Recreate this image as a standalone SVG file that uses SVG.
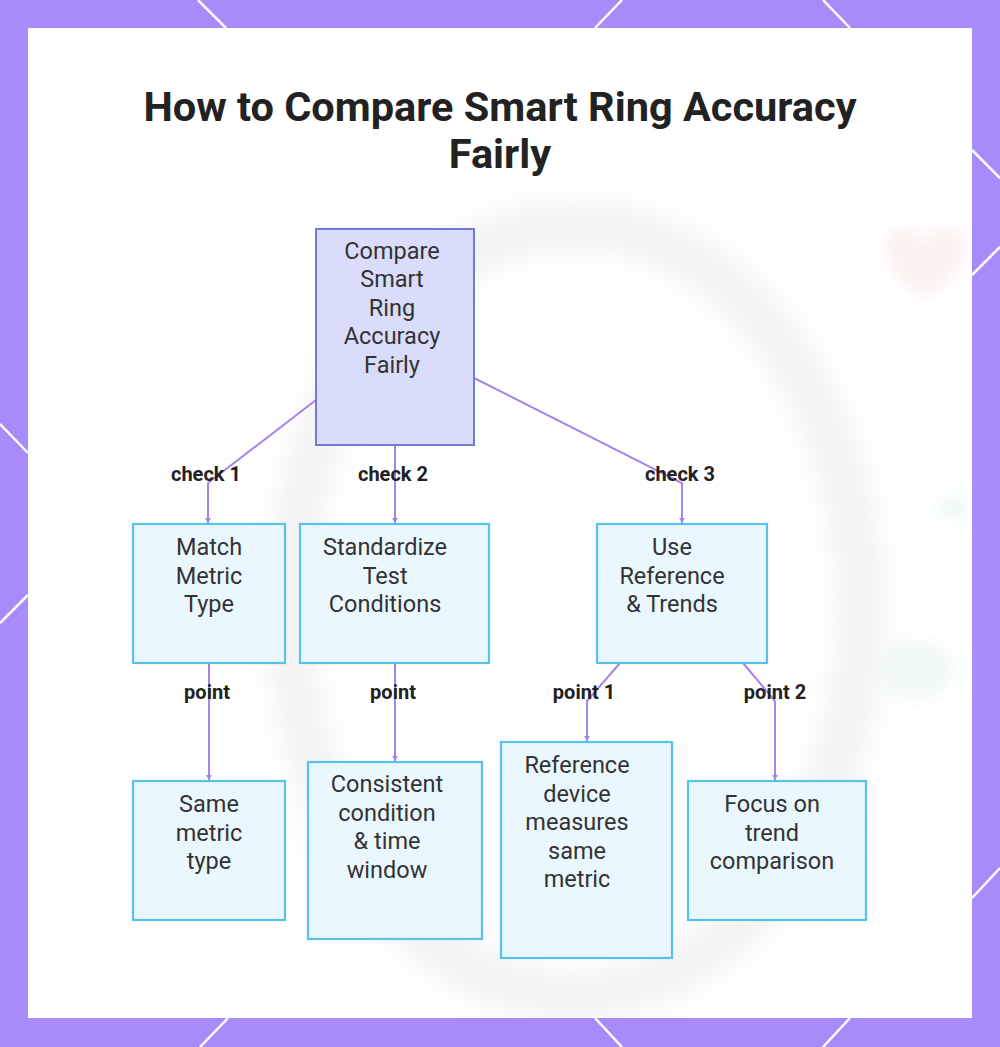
<svg xmlns="http://www.w3.org/2000/svg" width="1000" height="1047" viewBox="0 0 1000 1047">
  <style>
    .title { font-family: Roboto, "Liberation Sans", sans-serif; font-weight: 700; font-size: 41.5px; fill: #222222; text-anchor: middle; }
    .nt { font-family: Roboto, "Liberation Sans", sans-serif; font-size: 23.5px; fill: #333333; text-anchor: middle; }
    .lbl { font-family: Roboto, "Liberation Sans", sans-serif; font-weight: 700; font-size: 20px; fill: #222222; text-anchor: middle; }
    .root { fill: #d9dcfa; stroke: #6f7bd6; stroke-width: 2; }
    .box { fill: #ebf7fe; stroke: #58c3ea; stroke-width: 2.2; }
    .edge { fill: none; stroke: #a683ea; stroke-width: 2; }
    .deco { stroke: #ffffff; stroke-width: 2.5; }
  </style>
  <defs>
    <marker id="arr" viewBox="0 0 10 10" refX="9" refY="5" markerWidth="6" markerHeight="6" markerUnits="userSpaceOnUse" orient="auto">
      <path d="M0,0 L10,5 L0,10 z" fill="#a683ea"/>
    </marker>
    <filter id="blur" x="-30%" y="-30%" width="160%" height="160%">
      <feGaussianBlur stdDeviation="16"/>
    </filter>
    <filter id="blur2" x="-50%" y="-50%" width="200%" height="200%">
      <feGaussianBlur stdDeviation="8"/>
    </filter>
    <clipPath id="panel">
      <rect x="28" y="28" width="944" height="990"/>
    </clipPath>
  </defs>

  <!-- frame -->
  <rect x="0" y="0" width="1000" height="1047" fill="#a78bfa"/>
  <g class="deco">
    <line x1="198" y1="0" x2="226" y2="28"/>
    <line x1="622" y1="0" x2="595" y2="28"/>
    <line x1="823" y1="0" x2="850" y2="28"/>
    <line x1="228" y1="1018" x2="200" y2="1047"/>
    <line x1="595" y1="1018" x2="622" y2="1047"/>
    <line x1="850" y1="1018" x2="823" y2="1047"/>
    <line x1="0" y1="424" x2="28" y2="453"/>
    <line x1="28" y1="595" x2="0" y2="623"/>
    <line x1="972" y1="150" x2="1000" y2="178"/>
    <line x1="972" y1="275" x2="1000" y2="247"/>
    <line x1="972" y1="898" x2="1000" y2="868"/>
  </g>
  <rect x="28" y="28" width="944" height="990" fill="#ffffff"/>

  <!-- faint blurred background -->
  <g clip-path="url(#panel)">
    <ellipse cx="575" cy="610" rx="285" ry="385" fill="none" stroke="#f2f2f2" stroke-width="45" filter="url(#blur)"/>
    <path d="M925,300 C900,280 885,265 885,248 C885,232 900,225 912,230 C918,233 922,238 925,243 C928,238 932,233 938,230 C950,225 965,232 965,248 C965,265 950,280 925,300 z" fill="#fdf1f1" filter="url(#blur2)"/>
    <ellipse cx="915" cy="670" rx="40" ry="30" fill="#f0f9f5" filter="url(#blur2)"/>
    <ellipse cx="953" cy="508" rx="14" ry="12" fill="#ecf8f7" filter="url(#blur2)"/>
  </g>

  <!-- title -->
  <text class="title" x="500" y="121">How to Compare Smart Ring Accuracy</text>
  <text class="title" x="500" y="168">Fairly</text>

  <!-- connectors -->
  <g id="connectors">
    <path class="edge" d="M316,400 L208,483 L208,523" marker-end="url(#arr)"/>
    <path class="edge" d="M395,445 L395,523" marker-end="url(#arr)"/>
    <path class="edge" d="M474,378 L682,483 L682,523" marker-end="url(#arr)"/>
    <path class="edge" d="M209,663 L209,780" marker-end="url(#arr)"/>
    <path class="edge" d="M395,663 L395,761" marker-end="url(#arr)"/>
    <path class="edge" d="M620,663 L587,701 L587,741" marker-end="url(#arr)"/>
    <path class="edge" d="M743,663 L775,701 L775,780" marker-end="url(#arr)"/>
    <text class="lbl" x="206" y="481">check 1</text>
    <text class="lbl" x="393" y="481">check 2</text>
    <text class="lbl" x="680" y="481">check 3</text>
    <text class="lbl" x="207" y="699">point</text>
    <text class="lbl" x="393" y="699">point</text>
    <text class="lbl" x="584" y="699">point 1</text>
    <text class="lbl" x="775" y="699">point 2</text>
  </g>

  <!-- nodes -->
  <g id="root">
    <rect class="root" x="316" y="229" width="158" height="216"/>
    <text class="nt" x="392" y="258.5">Compare</text>
    <text class="nt" x="392" y="287">Smart</text>
    <text class="nt" x="392" y="315.5">Ring</text>
    <text class="nt" x="392" y="344">Accuracy</text>
    <text class="nt" x="392" y="372.5">Fairly</text>
  </g>
  <g id="match">
    <rect class="box" x="133" y="524" width="152" height="139"/>
    <text class="nt" x="209" y="555">Match</text>
    <text class="nt" x="209" y="583.5">Metric</text>
    <text class="nt" x="209" y="612">Type</text>
  </g>
  <g id="standardize">
    <rect class="box" x="300" y="524" width="189" height="139"/>
    <text class="nt" x="385" y="555">Standardize</text>
    <text class="nt" x="385" y="583.5">Test</text>
    <text class="nt" x="385" y="612">Conditions</text>
  </g>
  <g id="use-reference">
    <rect class="box" x="597" y="524" width="170" height="139"/>
    <text class="nt" x="672" y="555">Use</text>
    <text class="nt" x="672" y="583.5">Reference</text>
    <text class="nt" x="672" y="612">&amp; Trends</text>
  </g>
  <g id="same-metric">
    <rect class="box" x="133" y="781" width="152" height="139"/>
    <text class="nt" x="209" y="812">Same</text>
    <text class="nt" x="209" y="840.5">metric</text>
    <text class="nt" x="209" y="869">type</text>
  </g>
  <g id="consistent">
    <rect class="box" x="308" y="762" width="174" height="177"/>
    <text class="nt" x="387" y="792">Consistent</text>
    <text class="nt" x="387" y="820.5">condition</text>
    <text class="nt" x="387" y="849">&amp; time</text>
    <text class="nt" x="387" y="877.5">window</text>
  </g>
  <g id="reference-device">
    <rect class="box" x="501" y="742" width="171" height="216"/>
    <text class="nt" x="577" y="773">Reference</text>
    <text class="nt" x="577" y="801.5">device</text>
    <text class="nt" x="577" y="830">measures</text>
    <text class="nt" x="577" y="858.5">same</text>
    <text class="nt" x="577" y="887">metric</text>
  </g>
  <g id="focus-trend">
    <rect class="box" x="688" y="781" width="178" height="139"/>
    <text class="nt" x="772" y="812">Focus on</text>
    <text class="nt" x="772" y="840.5">trend</text>
    <text class="nt" x="772" y="869">comparison</text>
  </g>
</svg>
